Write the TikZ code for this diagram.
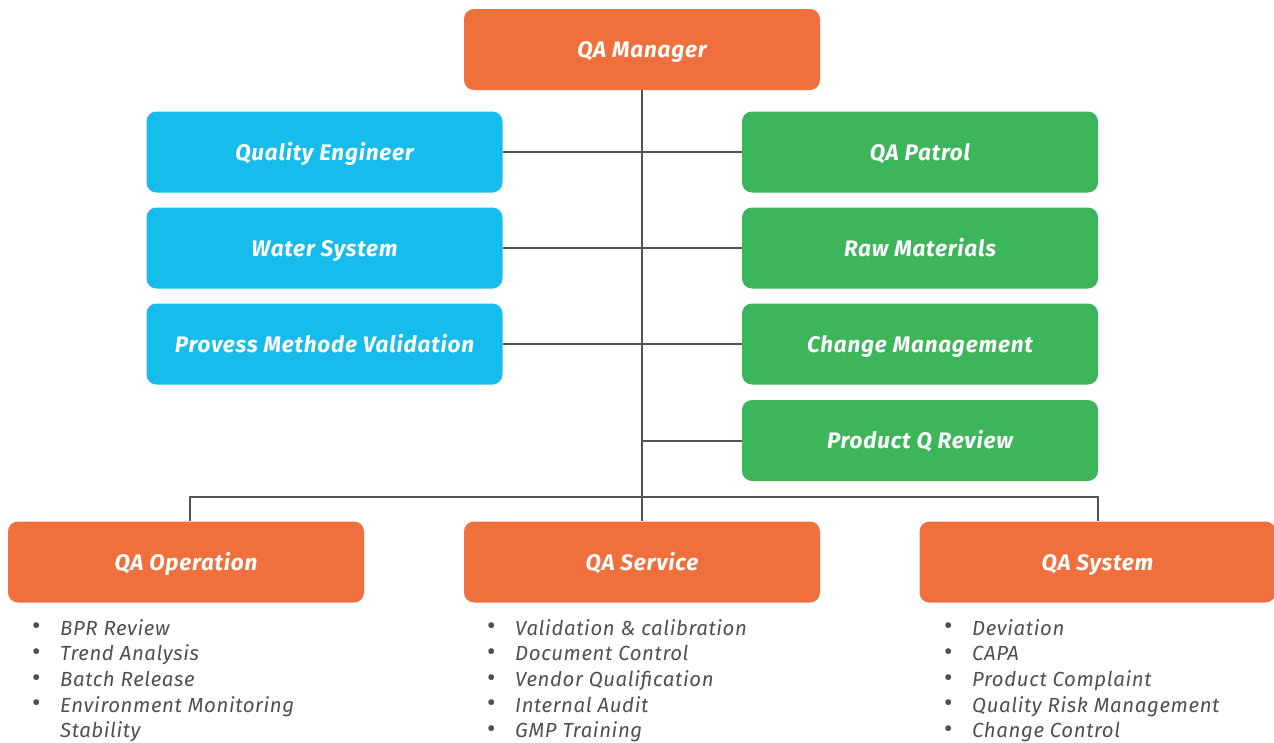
\documentclass[tikz,border=0pt]{standalone}
\usepackage{fontspec}
\setmainfont{Fira Sans}
\newfontfamily\boxfont[LetterSpace=3.5]{Fira Sans}
\newfontfamily\listfont[LetterSpace=3]{Fira Sans}
\definecolor{qaorange}{HTML}{EF703C}
\definecolor{qablue}{HTML}{16BDEC}
\definecolor{qagreen}{HTML}{3CB55B}
\definecolor{qaline}{HTML}{555555}
\definecolor{qatext}{HTML}{505050}
\tikzset{
  qabox/.style={rounded corners=10pt, minimum width=356pt, minimum height=81pt,
    inner sep=0pt, text=white, text height=17pt, text depth=1pt,
    font=\boxfont\fontsize{22.5}{26}\selectfont\bfseries\itshape},
  orangebox/.style={qabox, fill=qaorange},
  bluebox/.style={qabox, fill=qablue},
  greenbox/.style={qabox, fill=qagreen},
  conn/.style={draw=qaline, line width=2pt},
  qalist/.style={anchor=north west, inner sep=0pt, text=qatext,
    font=\listfont\fontsize{20.4}{25.7}\selectfont\itshape, align=left}
}
\newcommand{\qab}{\makebox[28pt][l]{\raisebox{0.5pt}{\fontsize{26}{26}\selectfont\upshape\textbullet}}}
\begin{document}
\begin{tikzpicture}[x=1pt,y=-1pt]
\useasboundingbox (0,0) rectangle (1274,742);
% nodes
\node[orangebox] (mgr) at (642,49.5) {QA Manager};
\node[bluebox] (qe) at (324.5,152) {Quality Engineer};
\node[bluebox] (ws) at (324.5,248) {Water System};
\node[bluebox] (pmv) at (324.5,344) {Provess Methode Validation};
\node[greenbox] (qp) at (920,152) {QA Patrol};
\node[greenbox] (rm) at (920,248) {Raw Materials};
\node[greenbox] (cm) at (920,344) {Change Management};
\node[greenbox] (pqr) at (920,440.5) {Product Q Review};
\node[orangebox] (op) at (186,562) {QA Operation};
\node[orangebox] (sv) at (642,562) {QA Service};
\node[orangebox] (sy) at (1097.5,562) {QA System};
% connectors
\coordinate (j4) at (642,440.5);
\coordinate (busl) at (190,497);
\coordinate (busr) at (1098,497);
\draw[conn] (mgr.south) -- (sv.north);
\draw[conn] (qe.east) -- (qp.west);
\draw[conn] (ws.east) -- (rm.west);
\draw[conn] (pmv.east) -- (cm.west);
\draw[conn] (j4) -- (pqr.west);
\draw[conn] (busl |- op.north) -- (busl) -- (busr) -- (busr |- sy.north);
% lists
\node[qalist] (l1) at (32,619) {\qab BPR Review\\ \qab Trend Analysis\\ \qab Batch Release\\ \qab Environment Monitoring\\ \hspace*{28pt}Stability};
\node[qalist] (l2) at (487,619) {\qab Validation \& calibration\\ \qab Document Control\\ \qab Vendor Qualification\\ \qab Internal Audit\\ \qab GMP Training};
\node[qalist] (l3) at (944,619) {\qab Deviation\\ \qab CAPA\\ \qab Product Complaint\\ \qab Quality Risk Management\\ \qab Change Control};
\end{tikzpicture}
\end{document}
